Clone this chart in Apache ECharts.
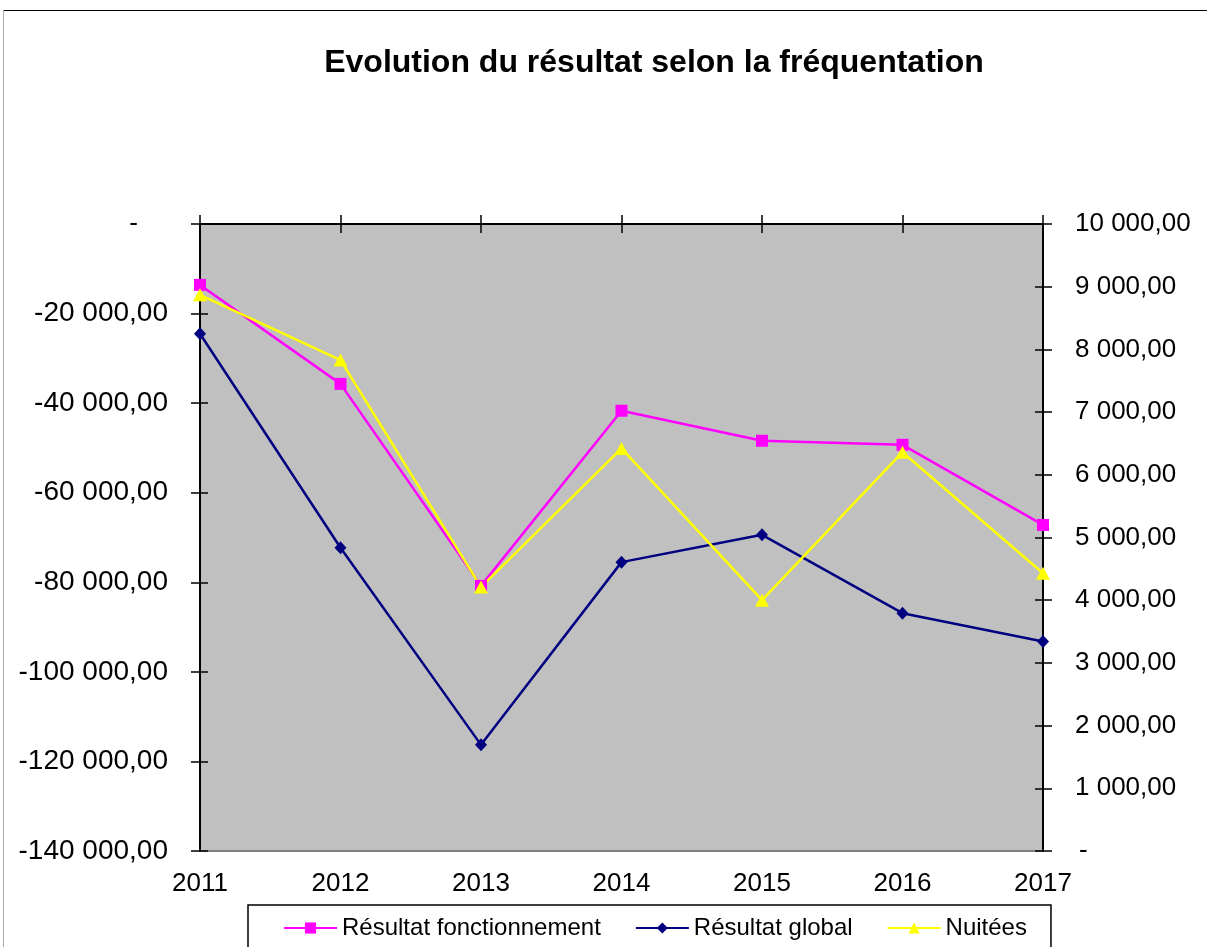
<!DOCTYPE html>
<html>
<head>
<meta charset="utf-8">
<script src="https://cdn.jsdelivr.net/npm/echarts@6/dist/echarts.min.js"></script>
<style>
html,body{margin:0;padding:0;background:#fff;}
#c{width:1207px;height:947px;}
</style>
</head>
<body>
<div id="c"></div>
<script>
var years = ['2011','2012','2013','2014','2015','2016','2017'];
var resultatFonctionnement = [-13600, -35700, -80800, -41700, -48400, -49300, -67200];
var resultatGlobal = [-24500, -72300, -116300, -75500, -69400, -86900, -93200];
var nuitees = [8870, 7830, 4210, 6420, 4000, 6360, 4430];

function fmt(v){
  var neg = v < 0; var a = Math.abs(Math.round(v));
  var s = String(a).replace(/\B(?=(\d{3})+(?!\d))/g, ' ');
  return (neg ? '-' : '') + s + ',00';
}
var FONT = 'Liberation Sans, Arial, sans-serif';
var chart = echarts.init(document.getElementById('c'), null, {renderer:'canvas'});
var lblSize = 26;
var leftSize = 28;
chart.setOption({
  animation:false,
  backgroundColor:'#fff',
  title:{text:'Evolution du résultat selon la fréquentation', left:649, textAlign:'center', top:42,
    textStyle:{fontFamily:FONT, fontSize:32, fontWeight:'bold', color:'#000'}},
  graphic:[
    {type:'line', shape:{x1:3,y1:10.5,x2:1207,y2:10.5}, style:{stroke:'#000', lineWidth:1}},
    {type:'line', shape:{x1:3.5,y1:10,x2:3.5,y2:947}, style:{stroke:'#aaa', lineWidth:1}}
  ],
  grid:{left:200, right:164, top:224, bottom:96, show:true, backgroundColor:'#C0C0C0', borderColor:'#808080', borderWidth:2},
  legend:{
    left:248, top:905, orient:'horizontal', itemWidth:53, itemHeight:14, itemGap:34,
    borderColor:'#000', borderWidth:1.5, padding:[11, 24, 30, 35],
    textStyle:{fontFamily:FONT, fontSize:24, color:'#000'},
    data:['Résultat fonctionnement','Résultat global','Nuitées']
  },
  xAxis:[
    {type:'category', data:years, position:'top', boundaryGap:false,
      axisLine:{lineStyle:{color:'#000', width:2}}, axisTick:{show:true, length:9, inside:false, lineStyle:{color:'#000', width:1.5}},
      axisLabel:{show:false}, splitLine:{show:false}},
    {type:'category', data:years, position:'bottom', boundaryGap:false,
      axisLine:{show:false}, axisTick:{show:false},
      axisLabel:{show:true, margin:20, fontFamily:FONT, fontSize:lblSize, color:'#000'}},
    {type:'category', data:years, position:'top', boundaryGap:false,
      axisLine:{show:false}, axisTick:{show:true, length:9, inside:true, lineStyle:{color:'#000', width:1.5}},
      axisLabel:{show:false}}
  ],
  yAxis:[
    {type:'value', position:'left', min:-140000, max:0, interval:20000,
      axisLine:{show:true, lineStyle:{color:'#000', width:2}}, axisTick:{show:true, length:9, lineStyle:{color:'#000', width:1.5}},
      splitLine:{show:false},
      axisLabel:{margin:32, fontFamily:FONT, fontSize:leftSize, color:'#000',
        formatter:function(v){ return v===0 ? '{d|-}' : fmt(v); },
        rich:{d:{fontFamily:FONT, fontSize:lblSize, color:'#000', padding:[0,30,0,0]}}}},
    {type:'value', position:'right', min:0, max:10000, interval:1000,
      axisLine:{show:true, lineStyle:{color:'#000', width:2}}, axisTick:{show:true, length:9, lineStyle:{color:'#000', width:1.5}},
      splitLine:{show:false},
      axisLabel:{margin:32, fontFamily:FONT, fontSize:lblSize, color:'#000',
        formatter:function(v){ return v===0 ? '{d|-}' : fmt(v); },
        rich:{d:{fontFamily:FONT, fontSize:lblSize, color:'#000', padding:[0,0,0,4]}}}},
    {type:'value', position:'left', min:-140000, max:0, interval:20000,
      axisLine:{show:false}, axisTick:{show:true, inside:true, length:8, lineStyle:{color:'#000', width:1.5}},
      axisLabel:{show:false}, splitLine:{show:false}},
    {type:'value', position:'right', min:0, max:10000, interval:1000,
      axisLine:{show:false}, axisTick:{show:true, inside:true, length:8, lineStyle:{color:'#000', width:1.5}},
      axisLabel:{show:false}, splitLine:{show:false}}
  ],
  series:[
    {name:'Résultat fonctionnement', type:'line', xAxisIndex:0, yAxisIndex:0, data:resultatFonctionnement,
      symbol:'rect', symbolSize:12, color:'#FF00FF', lineStyle:{color:'#FF00FF', width:2.5}, itemStyle:{color:'#FF00FF'}},
    {name:'Résultat global', type:'line', xAxisIndex:0, yAxisIndex:0, data:resultatGlobal,
      symbol:'diamond', symbolSize:[12,13], color:'#000080', lineStyle:{color:'#000080', width:2.5}, itemStyle:{color:'#000080'}},
    {name:'Nuitées', type:'line', xAxisIndex:0, yAxisIndex:1, data:nuitees,
      symbol:'triangle', symbolSize:[14,13], color:'#FFFF00', lineStyle:{color:'#FFFF00', width:2.5}, itemStyle:{color:'#FFFF00'}}
  ]
});
</script>
</body>
</html>
